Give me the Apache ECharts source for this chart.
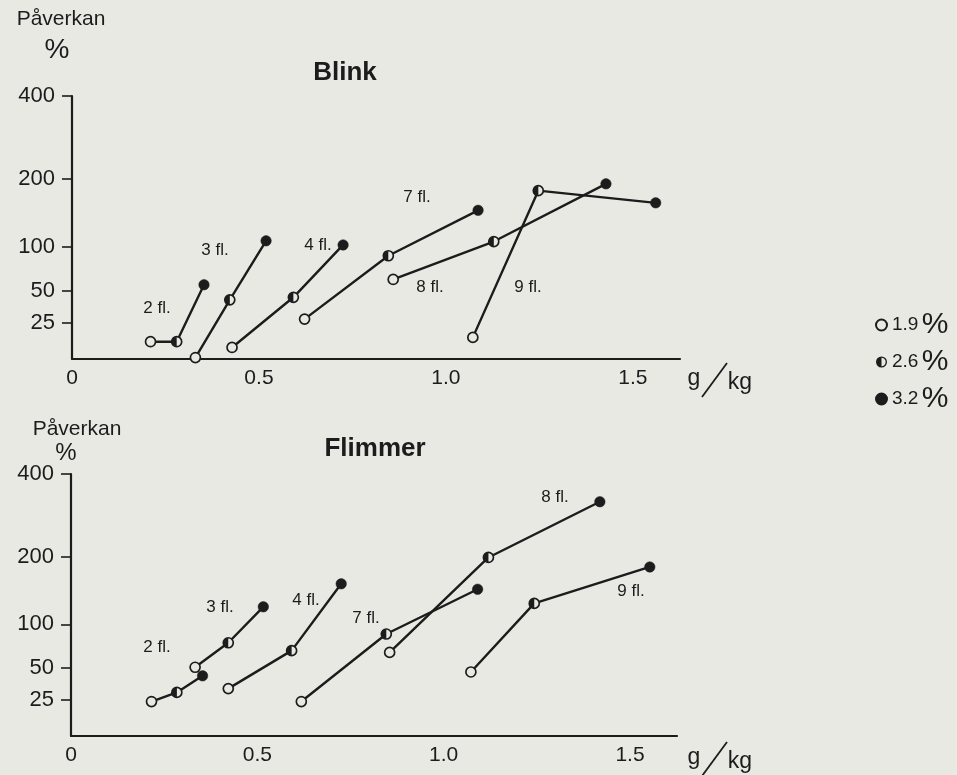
<!DOCTYPE html>
<html>
<head>
<meta charset="utf-8">
<script src="https://cdn.jsdelivr.net/npm/echarts@6/dist/echarts.min.js"></script>
<style>
  html, body { margin: 0; padding: 0; background: #e9e9e4; }
  #chart { width: 957px; height: 775px; }
</style>
</head>
<body>
<div id="chart"></div>
<script>
// Bottle counts and beer strengths
const groups = ['2 fl.', '3 fl.', '4 fl.', '7 fl.', '8 fl.', '9 fl.'];
const strengths = ['1.9 %', '2.6 %', '3.2 %'];

// Blink: alcohol dose (g/kg) and effect (%), one value per strength in each group
const blinkDose = [
  [0.210, 0.280, 0.353],
  [0.330, 0.422, 0.519],
  [0.428, 0.592, 0.725],
  [0.622, 0.846, 1.086],
  [0.859, 1.128, 1.428],
  [1.072, 1.247, 1.561]
];
const blinkEffect = [
  [12, 12, 57],
  [1, 43, 109],
  [8, 45, 103],
  [28, 90, 154],
  [63, 108, 193],
  [15, 183, 165]
];

// Flimmer: alcohol dose (g/kg) and effect (%)
const flickerDose = [
  [0.216, 0.284, 0.353],
  [0.333, 0.422, 0.516],
  [0.422, 0.592, 0.725],
  [0.618, 0.846, 1.091],
  [0.855, 1.120, 1.419],
  [1.073, 1.243, 1.553]
];
const flickerEffect = [
  [24, 31, 44],
  [51, 79, 126],
  [34, 70, 160],
  [24, 89, 152],
  [68, 199, 333],
  [47, 131, 185]
];

// Axis ticks
const effectTicks = [25, 50, 100, 200, 400];
const doseTicks = [0, 0.5, 1.0, 1.5];
const doseTickLabels = ['0', '0.5', '1.0', '1.5'];

// ---- Effect scale: the printed axis is neither linear nor logarithmic,
// so percentages are mapped piecewise onto a 0..100 axis.
const SCALE_VALUES = [0, 25, 50, 100, 200, 400];
const SCALE_FRACTIONS = [0, 0.137, 0.259, 0.426, 0.684, 1];
function effectToAxis(v) {
  for (let i = 1; i < SCALE_VALUES.length; i++) {
    if (v <= SCALE_VALUES[i] || i === SCALE_VALUES.length - 1) {
      const a = SCALE_VALUES[i - 1], b = SCALE_VALUES[i];
      const fa = SCALE_FRACTIONS[i - 1], fb = SCALE_FRACTIONS[i];
      return (fa + (v - a) / (b - a) * (fb - fa)) * 100;
    }
  }
  return 0;
}
function effectLabel(axisValue) {
  let best = effectTicks[0], bestD = Infinity;
  effectTicks.forEach(t => {
    const d = Math.abs(effectToAxis(t) - axisValue);
    if (d < bestD) { bestD = d; best = t; }
  });
  return String(best);
}
function doseLabel(v) {
  let idx = 0, bestD = Infinity;
  doseTicks.forEach((t, i) => { const d = Math.abs(t - v); if (d < bestD) { bestD = d; idx = i; } });
  return doseTickLabels[idx];
}

// ---- Styling
const INK = '#1c1c1c';
const PAPER = '#e9e9e4';
const FONT = '"Liberation Sans", Arial, sans-serif';

const halfDisk = 'path://M10 2 A8 8 0 0 0 10 18 Z';
const halfIcon = 'path://M10 0 A10 10 0 1 1 10 20 A10 10 0 1 1 10 0 Z ' +
  'M10 2.4 A7.6 7.6 0 1 0 10 17.6 A7.6 7.6 0 1 0 10 2.4 Z ' +
  'M10 2.4 A7.6 7.6 0 0 0 10 17.6 Z';

const panels = [
  { dose: blinkDose, effect: blinkEffect },
  { dose: flickerDose, effect: flickerEffect }
];

const grids = [
  { left: 72, top: 96, width: 608, height: 263 },
  { left: 71, top: 474, width: 606, height: 262 }
];

const xAxes = grids.map((g, p) => ({
  type: 'value', gridIndex: p, min: 0, max: 1.626,
  axisLine: { show: true, onZero: false, lineStyle: { color: INK, width: 2.2 } },
  axisTick: { show: false },
  splitLine: { show: false },
  axisLabel: {
    customValues: doseTicks,
    formatter: doseLabel,
    margin: 9, fontSize: 21, fontFamily: FONT, color: INK
  }
}));

const yAxes = grids.map((g, p) => ({
  type: 'value', gridIndex: p, min: 0, max: 100,
  axisLine: { show: true, onZero: false, lineStyle: { color: INK, width: 2.2 } },
  axisTick: {
    show: true, length: 10,
    customValues: effectTicks.map(effectToAxis),
    lineStyle: { color: INK, width: 1.6 }
  },
  splitLine: { show: false },
  axisLabel: {
    customValues: effectTicks.map(effectToAxis),
    formatter: effectLabel,
    margin: 17, fontSize: 22, fontFamily: FONT, color: INK
  }
}));

const series = [];
panels.forEach((panel, p) => {
  // connecting line for each bottle group
  groups.forEach((name, i) => {
    series.push({
      type: 'line', name: name, xAxisIndex: p, yAxisIndex: p,
      data: panel.dose[i].map((x, j) => [x, effectToAxis(panel.effect[i][j])]),
      symbol: 'none', silent: true, z: 2,
      lineStyle: { color: INK, width: 2.4 }
    });
  });
  const pointsFor = j => groups.map((g, i) => [panel.dose[i][j], effectToAxis(panel.effect[i][j])]);
  // 2.6 %: half-filled marker (dark half drawn over an open ring)
  series.push({
    type: 'scatter', name: strengths[1], xAxisIndex: p, yAxisIndex: p,
    data: pointsFor(1), symbol: halfDisk, symbolSize: [4.8, 9.6], symbolOffset: [-2.4, 0],
    itemStyle: { color: INK, opacity: 1 }, z: 5, silent: true
  });
  series.push({
    type: 'scatter', name: strengths[1], xAxisIndex: p, yAxisIndex: p,
    data: pointsFor(1), symbol: 'circle', symbolSize: 10,
    itemStyle: { color: PAPER, borderColor: INK, borderWidth: 1.7, opacity: 1 }, z: 4, silent: true
  });
  // 1.9 %: open marker
  series.push({
    type: 'scatter', name: strengths[0], xAxisIndex: p, yAxisIndex: p,
    data: pointsFor(0), symbol: 'circle', symbolSize: 10,
    itemStyle: { color: PAPER, borderColor: INK, borderWidth: 1.7, opacity: 1 }, z: 4, silent: true
  });
  // 3.2 %: filled marker
  series.push({
    type: 'scatter', name: strengths[2], xAxisIndex: p, yAxisIndex: p,
    data: pointsFor(2), symbol: 'circle', symbolSize: 10.5,
    itemStyle: { color: INK, borderColor: INK, borderWidth: 0.5, opacity: 1 }, z: 4, silent: true
  });
});

// Group annotations (pixel layout)
const blinkLabelPos = [[157, 308], [215, 250], [318, 245], [417, 197], [430, 287], [528, 287]];
const flickerLabelPos = [[157, 647], [220, 607], [306, 600], [366, 618], [555, 497], [631, 591]];

function txt(x, y, text, size, weight) {
  return {
    type: 'text', x: x, y: y, silent: true,
    style: {
      text: text, fontSize: size, fontWeight: weight || 'normal', fontFamily: FONT,
      fill: INK, align: 'center', verticalAlign: 'middle'
    }
  };
}

// "g/kg" unit with a tall thin slash
function unit(x, y) {
  return [
    txt(x + 4, y - 1, 'g', 23),
    {
      type: 'line', silent: true,
      shape: { x1: x + 12, y1: y + 17, x2: x + 37, y2: y - 17 },
      style: { stroke: INK, lineWidth: 1.8 }
    },
    txt(x + 50, y + 3, 'kg', 23)
  ];
}

const graphic = [
  txt(61, 19, 'Påverkan', 21),
  txt(57, 50, '%', 28),
  txt(345, 73, 'Blink', 26, 'bold'),
  txt(77, 429, 'Påverkan', 21),
  txt(66, 453, '%', 24),
  txt(375, 449, 'Flimmer', 26, 'bold')
].concat(unit(690, 380), unit(690, 759));

groups.forEach((name, i) => {
  graphic.push(txt(blinkLabelPos[i][0], blinkLabelPos[i][1], name, 17));
  graphic.push(txt(flickerLabelPos[i][0], flickerLabelPos[i][1], name, 17));
});

const chart = echarts.init(document.getElementById('chart'), null, { renderer: 'canvas' });
chart.setOption({
  backgroundColor: PAPER,
  animation: false,
  grid: grids,
  xAxis: xAxes,
  yAxis: yAxes,
  legend: {
    orient: 'vertical', left: 870, top: 305, itemGap: 7,
    itemWidth: 11, itemHeight: 11, selectedMode: false,
    data: [
      { name: strengths[0], icon: 'circle' },
      { name: strengths[1], icon: halfIcon, itemStyle: { color: INK, borderWidth: 0 } },
      { name: strengths[2], icon: 'circle' }
    ],
    formatter: name => '{n|' + name.replace(' %', '') + '} {p|%}',
    textStyle: {
      color: INK,
      rich: {
        n: { fontSize: 19, fontFamily: FONT, color: INK },
        p: { fontSize: 30, fontFamily: FONT, color: INK }
      }
    }
  },
  graphic: graphic,
  series: series
});
</script>
</body>
</html>
